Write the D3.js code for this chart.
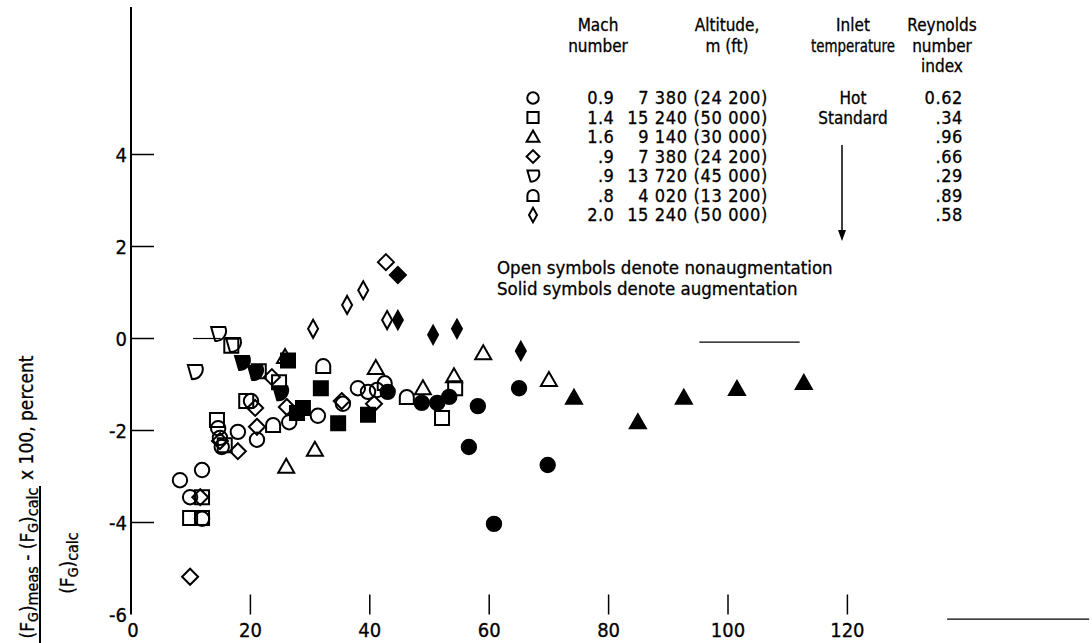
<!DOCTYPE html>
<html>
<head>
<meta charset="utf-8">
<script src="https://cdn.jsdelivr.net/npm/d3@7"></script>
<style>
  html, body { margin: 0; padding: 0; background: #fff; }
  svg { display: block; }
  text { font-family: 'Liberation Sans Narrow', 'DejaVu Sans Condensed', sans-serif; fill: #000; stroke: #000; stroke-width: 0.3; }
</style>
</head>
<body>
<svg id="chart" width="1092" height="643"></svg>
<script>
// ---- data: [x value, deviation %] ----
const circleOpen = [[8.2,-3.08],[11.9,-2.86],[9.9,-3.45],[11.9,-3.92],[14.6,-1.95],[14.9,-2.16],[15.2,-2.36],
  [17.9,-2.03],[21.1,-2.20],[20.1,-1.36],[26.5,-1.82],[31.3,-1.68],[35.5,-1.42],[38.0,-1.08],[39.7,-1.16],[41.2,-1.12]];
const circleSolid = [[43.0,-1.16],[48.7,-1.40],[51.3,-1.40],[53.3,-1.27],[58.1,-1.47],[65.0,-1.08],
  [56.6,-2.36],[69.8,-2.75],[60.8,-4.03]];
const squareOpen = [[11.9,-3.45],[9.9,-3.90],[11.9,-3.90],[14.4,-1.77],[15.7,-2.32],[16.8,-0.16],
  [19.3,-1.36],[21.4,-0.71],[24.8,-0.95],[54.3,-1.08],[52.1,-1.73]];
const squareSolid = [[26.3,-0.48],[31.8,-1.08],[28.8,-1.51],[27.8,-1.62],[34.7,-1.84],[39.7,-1.66]];
const triangleOpen = [[25.8,-0.40],[26.0,-2.79],[30.8,-2.42],[41.0,-0.64],[48.9,-1.08],[54.1,-0.82],[59.0,-0.32],[70.0,-0.90]];
const triangleSolid = [[74.2,-1.29],[84.9,-1.82],[92.6,-1.29],[101.5,-1.10],[112.7,-0.97]];
const diamondOpen = [[11.6,-3.45],[9.9,-5.18],[14.9,-2.23],[17.9,-2.45],[21.1,-1.92],[20.8,-1.51],
  [23.6,-0.84],[26.1,-1.49],[35.3,-1.36],[40.7,-1.42],[42.7,1.66]];
const diamondSolid = [[44.7,1.38]];
const flagOpen = [[14.6,0.10],[17.1,-0.14],[10.7,-0.73]];
const flagSolid = [[18.6,-0.53],[20.8,-0.75],[25.0,-1.19]];
const archOpen = [[32.2,-0.60],[42.5,-0.97],[46.2,-1.27],[23.8,-1.88]];
const narrowOpen = [[30.5,0.21],[36.2,0.73],[38.9,1.05],[42.9,0.40]];
const narrowSolid = [[44.7,0.40],[50.6,0.08],[54.6,0.21],[65.3,-0.27]];

// stray zero-line fragments and bottom rule seen on the original
const zeroSegments = [[10.4, 15.0, 0], [95.2, 112.0, -0.08]];
const bottomRule = [136.7, 160.5, -6.1];

const xTicks = [20, 40, 60, 80, 100, 120];
const yTicks = [4, 2, 0, -2, -4];

// legend table
const legendSymbols = ['circle', 'square', 'triangle', 'diamond', 'flag', 'arch', 'narrow'];
const legendMach = ['0.9', '1.4', '1.6', '.9', '.9', '.8', '2.0'];
const legendAltitude = ['7 380 (24 200)', '15 240 (50 000)', '9 140 (30 000)', '7 380 (24 200)',
  '13 720 (45 000)', '4 020 (13 200)', '15 240 (50 000)'];
const legendInlet = ['Hot', 'Standard'];
const legendReynolds = ['0.62', '.34', '.96', '.66', '.29', '.89', '.58'];

// ---- layout ----
const svg = d3.select('#chart');
const x = d3.scaleLinear().domain([0, 120]).range([131, 847.4]);
const y = d3.scaleLinear().domain([-6, 4]).range([614.5, 154.5]);

// symbol shapes, centred on 0,0
function shape(kind, s) {
  s = s || 1;
  const p = d3.path();
  if (kind === 'circle') { p.arc(0, 0, 7.2 * s, 0, Math.PI * 2); }
  else if (kind === 'square') { p.rect(-7 * s, -7 * s, 14 * s, 14 * s); }
  else if (kind === 'triangle') { p.moveTo(0, -8 * s); p.lineTo(8 * s, 6 * s); p.lineTo(-8 * s, 6 * s); p.closePath(); }
  else if (kind === 'diamond') { p.moveTo(0, -8 * s); p.lineTo(8 * s, 0); p.lineTo(0, 8 * s); p.lineTo(-8 * s, 0); p.closePath(); }
  else if (kind === 'narrow') { p.moveTo(0, -9 * s); p.lineTo(5 * s, 0); p.lineTo(0, 9 * s); p.lineTo(-5 * s, 0); p.closePath(); }
  else if (kind === 'flag') { return `M${-7*s},${-7*s}H${7*s}A${10*s},${10*s} 0 0 1 ${-3*s},${7*s}Z`; }
  else if (kind === 'arch') { return `M${-7*s},${7*s}V0A${7*s},${7*s} 0 0 1 ${7*s},0V${7*s}Z`; }
  return p.toString();
}

// ---- axes ----
svg.append('line').attr('x1', x(0)).attr('x2', x(0)).attr('y1', 7).attr('y2', y(-6))
  .attr('stroke', '#000').attr('stroke-width', 2);

svg.append('g').selectAll('line').data(yTicks).join('line')
  .attr('x1', x(0)).attr('x2', x(0) + 23).attr('y1', d => y(d)).attr('y2', d => y(d))
  .attr('stroke', '#000').attr('stroke-width', 1.5);

svg.append('g').selectAll('text').data(yTicks.concat([-6])).join('text')
  .attr('x', x(0) - 4).attr('y', d => y(d) + 7)
  .attr('text-anchor', 'end').attr('font-size', 20)
  .text(d => d);

svg.append('g').selectAll('line').data(xTicks).join('line')
  .attr('x1', d => x(d)).attr('x2', d => x(d)).attr('y1', y(-6) - 20).attr('y2', y(-6))
  .attr('stroke', '#000').attr('stroke-width', 1.5);

svg.append('g').selectAll('text').data([0].concat(xTicks)).join('text')
  .attr('x', d => x(d) + (d === 0 ? 2 : 0)).attr('y', 637)
  .attr('text-anchor', 'middle').attr('font-size', 20)
  .text(d => d);

svg.append('g').selectAll('line').data(zeroSegments).join('line')
  .attr('x1', d => x(d[0])).attr('x2', d => x(d[1])).attr('y1', d => y(d[2])).attr('y2', d => y(d[2]))
  .attr('stroke', '#000').attr('stroke-width', 1.2);
svg.append('line').attr('x1', x(bottomRule[0])).attr('x2', x(bottomRule[1]))
  .attr('y1', y(bottomRule[2])).attr('y2', y(bottomRule[2]))
  .attr('stroke', '#000').attr('stroke-width', 1.2);

// ---- y axis title (fraction, rotated) ----
const yt = svg.append('g').attr('font-size', 19);
const num = yt.append('text').attr('transform', 'translate(34,563) rotate(-90)').attr('text-anchor', 'middle');
num.append('tspan').text('(F');
num.append('tspan').attr('font-size', 14).attr('dy', 4).text('G');
num.append('tspan').attr('dy', -4).text(')');
num.append('tspan').attr('font-size', 16).attr('dy', 4).text('meas');
num.append('tspan').attr('dy', -4).text(' - (F');
num.append('tspan').attr('font-size', 14).attr('dy', 4).text('G');
num.append('tspan').attr('dy', -4).text(')');
num.append('tspan').attr('font-size', 16).attr('dy', 4).text('calc');
yt.append('text').attr('transform', 'translate(33,480) rotate(-90)').text('x 100,  percent');
const den = yt.append('text').attr('transform', 'translate(74,563) rotate(-90)').attr('text-anchor', 'middle');
den.append('tspan').text('(F');
den.append('tspan').attr('font-size', 14).attr('dy', 4).text('G');
den.append('tspan').attr('dy', -4).text(')');
den.append('tspan').attr('font-size', 16).attr('dy', 4).text('calc');
yt.append('line').attr('x1', 40).attr('x2', 40).attr('y1', 486).attr('y2', 643)
  .attr('stroke', '#000').attr('stroke-width', 2);

// ---- points ----
const series = [
  [circleOpen, 'circle', false], [squareOpen, 'square', false], [diamondOpen, 'diamond', false],
  [flagOpen, 'flag', false], [archOpen, 'arch', false], [narrowOpen, 'narrow', false],
  [triangleOpen, 'triangle', false],
  [circleSolid, 'circle', true], [squareSolid, 'square', true], [triangleSolid, 'triangle', true],
  [diamondSolid, 'diamond', true], [flagSolid, 'flag', true], [narrowSolid, 'narrow', true]
];
const pts = svg.append('g');
series.forEach(([data, kind, solid]) => {
  pts.append('g').selectAll('path').data(data).join('path')
    .attr('transform', d => `translate(${x(d[0])},${y(d[1])})`)
    .attr('d', shape(kind))
    .attr('fill', solid ? '#000' : 'none')
    .attr('stroke', '#000').attr('stroke-width', 2);
});

// ---- legend ----
const lg = svg.append('g').attr('font-size', 17);
const head = [[598, ['Mach', 'number']], [727, ['Altitude,', 'm (ft)']], [853, ['Inlet', 'temperature']],
  [942, ['Reynolds', 'number', 'index']]];
head.forEach(([cx, lines]) => {
  lines.forEach((t, i) => {
    const tx = lg.append('text').attr('x', cx).attr('y', 31 + i * 20.5)
      .attr('text-anchor', 'middle').text(t);
    if (t === 'temperature') tx.attr('textLength', 84).attr('lengthAdjust', 'spacingAndGlyphs');
  });
});
const rowY = i => 98 + i * 19.5;
lg.append('g').selectAll('path').data(legendSymbols).join('path')
  .attr('transform', (d, i) => `translate(533,${rowY(i)})`)
  .attr('d', d => shape(d, 0.8)).attr('fill', 'none').attr('stroke', '#000').attr('stroke-width', 2);
const rows = lg.append('g').attr('font-size', 18);
rows.append('g').selectAll('text').data(legendMach).join('text')
  .attr('x', 614).attr('y', (d, i) => rowY(i) + 6).attr('text-anchor', 'end')
  .attr('letter-spacing', 0.3).text(d => d);
rows.append('g').selectAll('text').data(legendAltitude).join('text')
  .attr('x', 768).attr('y', (d, i) => rowY(i) + 6).attr('text-anchor', 'end')
  .attr('letter-spacing', 0.65).text(d => d);
rows.append('g').selectAll('text').data(legendReynolds).join('text')
  .attr('x', 963).attr('y', (d, i) => rowY(i) + 6).attr('text-anchor', 'end')
  .attr('letter-spacing', 0.6).text(d => d);
lg.append('g').selectAll('text').data(legendInlet).join('text')
  .attr('x', 853).attr('y', (d, i) => rowY(i) + 6).attr('text-anchor', 'middle').text(d => d);
lg.append('line').attr('x1', 842).attr('x2', 842).attr('y1', 145).attr('y2', 232)
  .attr('stroke', '#000').attr('stroke-width', 1.5);
lg.append('path').attr('d', 'M838,230 L846,230 L842,241 Z').attr('fill', '#000');
const notes = lg.append('g').attr('font-size', 18.5);
notes.append('text').attr('x', 497).attr('y', 274).text('Open symbols denote nonaugmentation');
notes.append('text').attr('x', 497).attr('y', 295).text('Solid symbols denote augmentation');
</script>
</body>
</html>
